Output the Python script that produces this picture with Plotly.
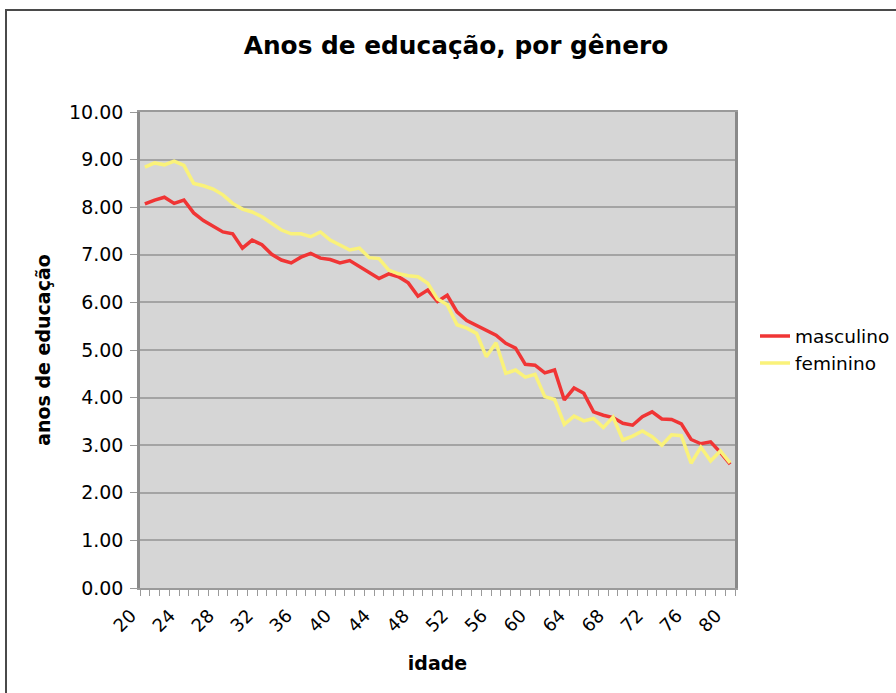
import plotly.graph_objects as go

ages = list(range(20, 81))

masculino = [8.07, 8.15, 8.21, 8.08, 8.15, 7.88, 7.72, 7.60, 7.48, 7.44,
             7.14, 7.31, 7.21, 7.01, 6.89, 6.83, 6.95, 7.03, 6.93, 6.90,
             6.83, 6.88, 6.76, 6.62, 6.50, 6.60, 6.54, 6.41, 6.13, 6.26,
             6.02, 6.15, 5.80, 5.62, 5.52, 5.42, 5.31, 5.14, 5.04, 4.70,
             4.68, 4.52, 4.58, 3.95, 4.20, 4.09, 3.70, 3.63, 3.58, 3.46,
             3.42, 3.60, 3.70, 3.55, 3.54, 3.45, 3.12, 3.03, 3.07, 2.85,
             2.60]

feminino = [8.84, 8.93, 8.89, 8.97, 8.88, 8.50, 8.45, 8.38, 8.26, 8.08,
            7.96, 7.90, 7.80, 7.67, 7.52, 7.44, 7.44, 7.38, 7.48, 7.31,
            7.20, 7.10, 7.14, 6.94, 6.92, 6.68, 6.60, 6.56, 6.54, 6.40,
            6.07, 5.95, 5.53, 5.46, 5.35, 4.86, 5.15, 4.51, 4.58, 4.43,
            4.49, 4.02, 3.96, 3.44, 3.61, 3.51, 3.56, 3.37, 3.59, 3.11,
            3.19, 3.30, 3.18, 3.00, 3.22, 3.20, 2.62, 2.96, 2.67, 2.88,
            2.63]

x_tick_vals = list(range(20, 81, 4))
x_tick_text = [str(v) for v in x_tick_vals]
y_tick_vals = list(range(0, 11))
y_tick_text = [f"{v:.2f}" for v in y_tick_vals]

FONT = "DejaVu Sans"

fig = go.Figure()
fig.add_trace(go.Scatter(x=ages, y=masculino, mode="lines", name="masculino",
                         line=dict(color="#F03535", width=3.5)))
fig.add_trace(go.Scatter(x=ages, y=feminino, mode="lines", name="feminino",
                         line=dict(color="#FAF27A", width=3.5)))

W, H = 896, 693
L, R, T, B = 140, 161, 112, 105
pw, ph = W - L - R, H - T - B

def px_to_paper_x(px):
    return (px - L) / pw

def px_to_paper_y(py):
    return (H - B - py) / ph

fig.update_layout(
    width=W, height=H,
    margin=dict(l=L, r=R, t=T, b=B, autoexpand=False),
    paper_bgcolor="white",
    plot_bgcolor="#D6D6D6",
    font=dict(family=FONT, size=19, color="black"),
    title=dict(text="<b>Anos de educação, por gênero</b>",
               x=0.509, xref="container", xanchor="center",
               y=1 - 45 / H, yref="container", yanchor="middle",
               font=dict(family=FONT, size=24.8, color="black")),
    showlegend=True,
    legend=dict(x=px_to_paper_x(755), xanchor="left", y=0.5, yanchor="middle",
                bgcolor="rgba(0,0,0,0)", font=dict(size=18.5),
                tracegroupgap=4),
    xaxis=dict(
        range=[19.5, 80.5], automargin=False,
        tickmode="array", tickvals=x_tick_vals, ticktext=x_tick_text,
        tickangle=-45, ticks="", showgrid=False, zeroline=False,
        showline=True, linecolor="#9A9A9A", linewidth=2, mirror=True,
        tickfont=dict(size=18), ticklabelshift=-14, ticklabelstandoff=8,
        minor=dict(tick0=19.5, dtick=1, ticks="outside", ticklen=6,
                   tickcolor="#9A9A9A", showgrid=False),
        title=dict(text="<b>idade</b>", font=dict(size=19), standoff=22),
    ),
    yaxis=dict(
        range=[0, 10], automargin=False,
        tickmode="array", tickvals=y_tick_vals, ticktext=y_tick_text,
        ticks="outside", ticklen=7, tickcolor="#9A9A9A",
        showgrid=True, gridcolor="#A4A4A4", gridwidth=1.5, zeroline=False,
        showline=True, linecolor="#8A8A8A", linewidth=2.5, mirror=True,
        tickfont=dict(size=19), ticklabelstandoff=3,
        title=dict(text="<b>anos de educação</b>", font=dict(size=19), standoff=14),
    ),
    shapes=[dict(type="rect", xref="paper", yref="paper",
                 x0=px_to_paper_x(6), x1=px_to_paper_x(940),
                 y0=px_to_paper_y(720), y1=px_to_paper_y(10),
                 line=dict(color="#4A4A4A", width=2), fillcolor="rgba(0,0,0,0)",
                 layer="below")],
)

fig.write_html("out.html", config={"displayModeBar": False},
               post_script="document.body.style.margin='0';")
